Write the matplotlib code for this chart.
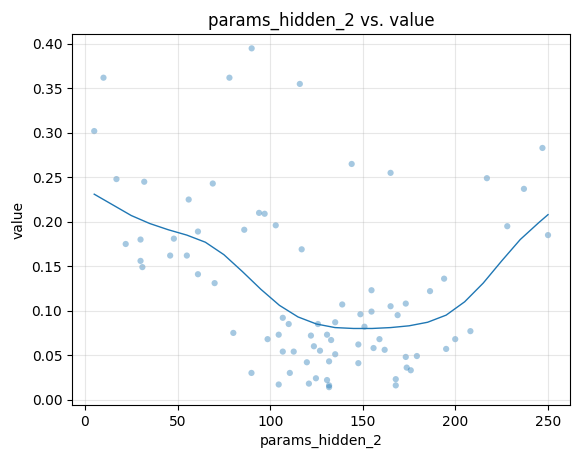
import matplotlib.pyplot as plt

hidden_x = [5, 10, 17, 22, 30, 30, 31, 32, 46, 48, 55, 56, 61, 61, 69, 70, 78, 86, 90, 94,
            97, 103, 116, 117, 144, 165, 217, 228, 237, 247, 250,
            80.1, 89.9, 98.6, 104.6, 104.6, 106.8, 106.8, 110.0, 110.6, 112.7, 119.8, 120.9,
            122.0, 123.6, 124.7, 125.8, 126.9, 130.7, 130.7, 131.8, 131.8, 131.8, 132.9,
            135.1, 135.1, 138.9, 147.6, 147.6, 148.7, 150.9, 154.7, 154.7, 155.8, 159.0,
            161.8, 165.0, 167.8, 167.8, 168.8, 173.2, 173.2, 173.7, 175.9, 179.2, 186.3,
            193.9, 195.0, 199.9, 208.1]
value = [0.302, 0.362, 0.248, 0.175, 0.180, 0.156, 0.149, 0.245, 0.162, 0.181, 0.162, 0.225,
         0.141, 0.189, 0.243, 0.131, 0.362, 0.191, 0.395, 0.210, 0.209, 0.196, 0.355, 0.169,
         0.265, 0.255, 0.249, 0.195, 0.237, 0.283, 0.185,
         0.075, 0.030, 0.068, 0.073, 0.017, 0.092, 0.054, 0.085, 0.030, 0.054, 0.042, 0.018,
         0.072, 0.060, 0.024, 0.085, 0.055, 0.073, 0.022, 0.043, 0.016, 0.014, 0.067,
         0.051, 0.087, 0.107, 0.062, 0.041, 0.096, 0.082, 0.123, 0.099, 0.058, 0.068,
         0.056, 0.105, 0.023, 0.016, 0.095, 0.108, 0.048, 0.036, 0.033, 0.049, 0.122,
         0.136, 0.057, 0.068, 0.077]

# smoothed trend
trend_x = [5, 15, 25, 35, 45, 55, 65, 75, 85, 95, 105, 115, 125, 135, 145, 155, 165,
           175, 185, 195, 205, 215, 225, 235, 245, 250]
trend_y = [0.231, 0.219, 0.207, 0.198, 0.191, 0.185, 0.177, 0.163, 0.144, 0.124, 0.106,
           0.093, 0.085, 0.081, 0.080, 0.080, 0.081, 0.083, 0.087, 0.095, 0.110, 0.131,
           0.156, 0.180, 0.199, 0.208]

fig, ax = plt.subplots(figsize=(5.76, 4.55), dpi=100)
ax.scatter(hidden_x, value, s=20, alpha=0.4, color="C0", edgecolors="none")
ax.plot(trend_x, trend_y, color="C0", linewidth=1)
ax.set_xlim(-7, 262)
ax.set_ylim(-0.006, 0.411)
ax.grid(True, alpha=0.3)
ax.set_xlabel("params_hidden_2")
ax.set_ylabel("value")
ax.set_title("params_hidden_2 vs. value")
fig.subplots_adjust(left=0.125, right=0.99, top=0.925, bottom=0.11)
fig.savefig("out.png")
